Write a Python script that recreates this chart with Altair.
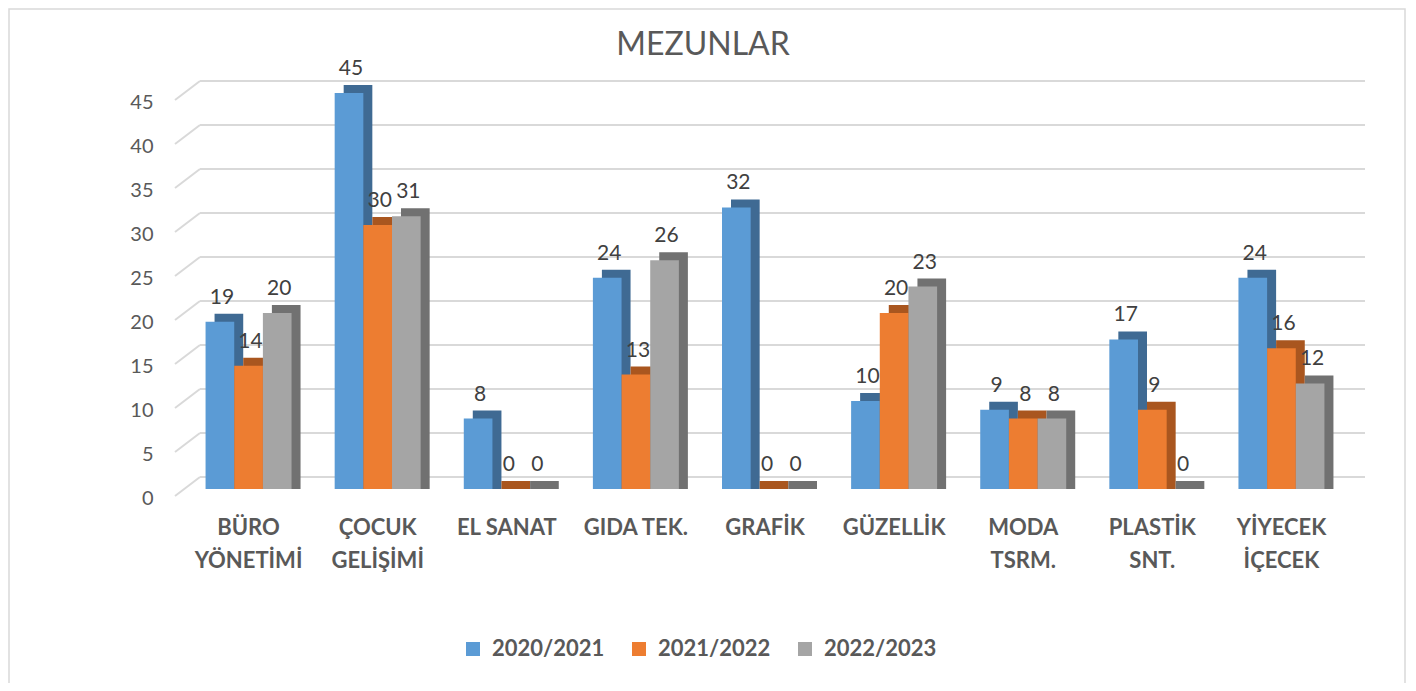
import altair as alt
import pandas as pd

title_text = "MEZUNLAR"
categories = ["BÜRO|YÖNETİMİ", "ÇOCUK|GELİŞİMİ", "EL SANAT", "GIDA TEK.", "GRAFİK",
              "GÜZELLİK", "MODA|TSRM.", "PLASTİK|SNT.", "YİYECEK|İÇECEK"]
series = ["2020/2021", "2021/2022", "2022/2023"]
vals_2020 = [19, 45, 8, 24, 32, 10, 9, 17, 24]
vals_2021 = [14, 30, 0, 13, 0, 20, 8, 9, 16]
vals_2022 = [20, 31, 0, 26, 0, 23, 8, 0, 12]
tick_values = [0, 5, 10, 15, 20, 25, 30, 35, 40, 45]

front_colors = ["#5b9bd5", "#ed7d31", "#a5a5a5"]
dark_colors = ["#3f6a93", "#a9561f", "#717171"]

rows = []
for s, vals in zip(series, [vals_2020, vals_2021, vals_2022]):
    for c, v in zip(categories, vals):
        rows.append({"cat": c, "series": s, "value": v})
df = pd.DataFrame(rows)
grid_df = pd.DataFrame({"value": tick_values})
title_df = pd.DataFrame({"t": [title_text]})

W, H = 1162, 396
PL, PT = 176, 85
BAND = W / 9 * (1 - 0.334)

x_enc = alt.X("cat:N", sort=categories,
              scale=alt.Scale(paddingInner=0.334, paddingOuter=0.167),
              axis=alt.Axis(title=None, labelExpr="split(datum.label, '|')", labelAngle=0,
                            ticks=False, domain=False, labelFont="Lato", labelFontWeight="bold",
                            labelFontSize=22, labelColor="#595959", labelPadding=28,
                            labelLineHeight=33, labelBaseline="top"))
xo_enc = alt.XOffset("series:N", sort=series)
xo_shadow = alt.XOffset("series:N", sort=series, scale=alt.Scale(range=[9, BAND + 9]))
y_scale = alt.Scale(domain=[0, 45], nice=False)
y_axis = alt.Axis(values=tick_values, title=None, grid=False, ticks=False, domain=False,
                  labelFont="Lato", labelFontSize=20, labelColor="#595959",
                  labelPadding=31, labelOffset=9)
y_enc = alt.Y("value:Q", scale=y_scale, axis=y_axis)

base = alt.Chart(df)

grid_h = alt.Chart(grid_df).mark_rule(color="#d9d9d9", strokeWidth=2, yOffset=-12).encode(
    y=y_enc, x=alt.value(16), x2=alt.value(1181))
grid_d = alt.Chart(grid_df).mark_rule(color="#d9d9d9", strokeWidth=2, yOffset=7, y2Offset=-12).encode(
    y=y_enc, y2=alt.Y2("value:Q"), x=alt.value(-9), x2=alt.value(16))

shadow = base.mark_bar(yOffset=-8, y2Offset=0.01).encode(
    x=x_enc, xOffset=xo_shadow, y=y_enc, y2=alt.datum(0),
    color=alt.Color("series:N", sort=series,
                    scale=alt.Scale(domain=series, range=dark_colors), legend=None))

front = base.mark_bar().encode(
    x=x_enc, xOffset=xo_enc, y=y_enc,
    color=alt.Color("series:N", sort=series,
                    scale=alt.Scale(domain=series, range=front_colors),
                    legend=alt.Legend(title=None, orient="none", direction="horizontal",
                                      legendX=278, legendY=545, symbolType="square",
                                      symbolSize=196, symbolStrokeWidth=0, labelFont="Lato",
                                      labelFontWeight="bold", labelFontSize=22,
                                      labelColor="#595959", labelOffset=8, columnPadding=23)))

labels = base.mark_text(font="Lato", fontSize=21, color="#404040", dy=-24, dx=2,
                        baseline="middle").encode(
    x=x_enc, xOffset=xo_enc, y=y_enc, text="value:Q")

title = alt.Chart(title_df).mark_text(font="Lato", fontSize=32, color="#595959",
                                      baseline="middle", align="center").encode(
    x=alt.value(519), y=alt.value(-48), text="t:N")

border = alt.Chart(title_df).mark_rect(fill=None, stroke="#d9d9d9", strokeWidth=1.5).encode(
    x=alt.value(-PL + 1), x2=alt.value(1405 - 8 - PL), y=alt.value(-PT + 1), y2=alt.value(686 - 8 - PT))

chart = alt.layer(border, grid_h, grid_d, shadow, front, labels, title).resolve_scale(
    color="independent", xOffset="independent"
).properties(
    width=W, height=H, autosize="none",
    padding={"left": PL, "top": PT, "right": 1400 - PL - W, "bottom": 675 - PT - H},
    background="white"
).configure_view(stroke=None)

chart.save("out.html", embed_options={"renderer": "svg", "actions": False})
